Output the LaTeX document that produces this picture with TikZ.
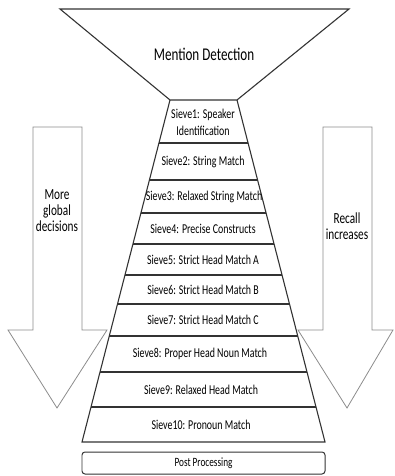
\documentclass[tikz,border=0pt]{standalone}
\usepackage{fontspec}
\setmainfont[FakeStretch=0.73]{Carlito}
\usepackage{tikz}

\begin{document}
\begin{tikzpicture}[x=1bp, y=-1bp,
  funnel/.style = {draw=black!80, line width=1.1pt, line join=miter},
  bigarrow/.style = {draw=black!45, line width=0.8pt, fill=white},
  sieve/.style = {font=\fontsize{13.6}{17}\selectfont, align=center, inner sep=1pt},
  side/.style = {font=\fontsize{15.5}{16}\selectfont, align=center, inner sep=1pt},
  post/.style = {draw=black!80, line width=1pt, rounded corners=3pt,
                 minimum width=243bp, minimum height=22bp,
                 font=\fontsize{12.7}{14}\selectfont}]
\useasboundingbox (0,0) rectangle (394,476);

% --- big arrows --------------------------------------------------------
\draw[bigarrow] (33,127) -- (82,127) -- (82,330) -- (107,330) -- (57,408)
  -- (8,330) -- (33,330) -- cycle;
\draw[bigarrow] (323,127) -- (372,127) -- (372,330) -- (393,330) -- (347,408)
  -- (298,330) -- (323,330) -- cycle;
\node[side] (global) at (57,211) {More\\global\\decisions};
\node[side] (recall) at (347,226) {Recall\\increases};

% --- funnel ------------------------------------------------------------
\draw[funnel] (60,9) -- (349,9) -- (237,100) -- (170,100) -- cycle;
\node[font=\fontsize{18}{20}\selectfont] (md) at (204,54) {Mention Detection};

% --- sieves ------------------------------------------------------------
\draw[funnel] (170,100) -- (82,442) -- (325,442) -- (237,100);
\foreach \y in {143,180,213,244,275,304,336,372,407}
  \draw[funnel] ({170-(\y-100)/342*88},\y) -- ({237+(\y-100)/342*88},\y);

\node[sieve] (s1)  at (203,122) {Sieve1: Speaker\\Identification};
\node[sieve] (s2)  at (203,162) {Sieve2: String Match};
\node[sieve] (s3)  at (204,197) {Sieve3: Relaxed String Match};
\node[sieve] (s4)  at (203,229) {Sieve4: Precise Constructs};
\node[sieve] (s5)  at (203,260) {Sieve5: Strict Head Match A};
\node[sieve] (s6)  at (203,290) {Sieve6: Strict Head Match B};
\node[sieve] (s7)  at (203,320) {Sieve7: Strict Head Match C};
\node[sieve] (s8)  at (200,354) {Sieve8: Proper Head Noun Match};
\node[sieve] (s9)  at (201,390) {Sieve9: Relaxed Head Match};
\node[sieve] (s10) at (201,425) {Sieve10: Pronoun Match};

% --- post processing ---------------------------------------------------
\node[post] (pp) at (203.5,463) {Post Processing};
\end{tikzpicture}
\end{document}
